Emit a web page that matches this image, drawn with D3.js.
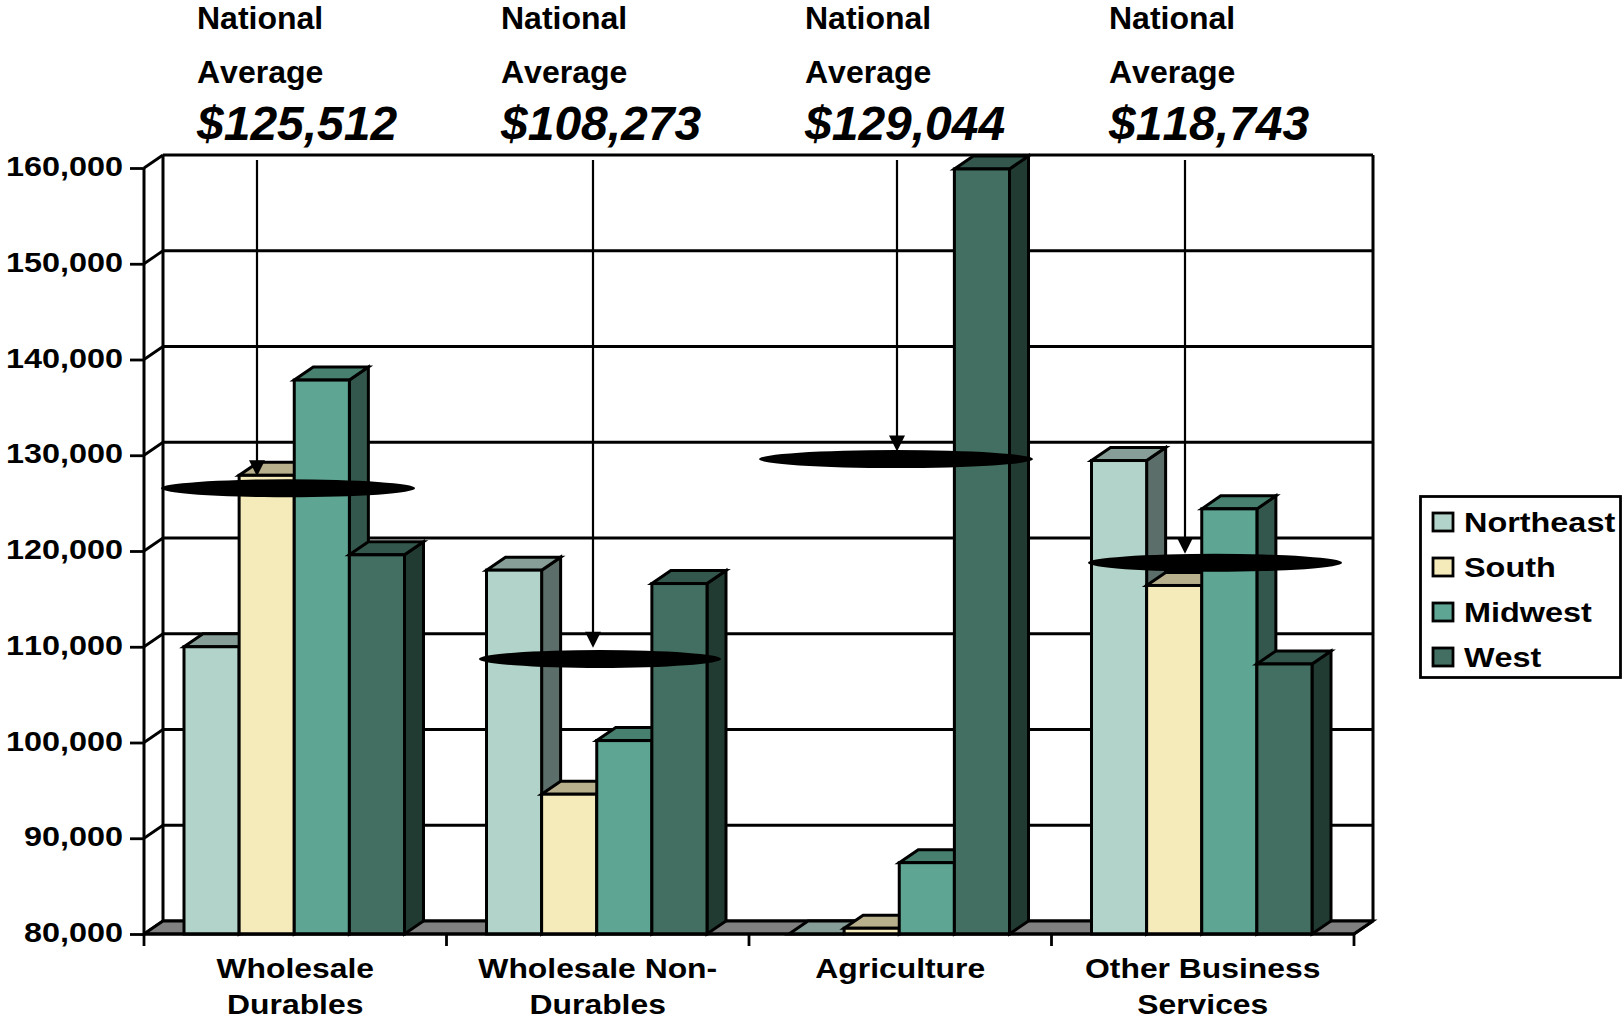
<!DOCTYPE html>
<html><head><meta charset="utf-8">
<script src="https://cdnjs.cloudflare.com/ajax/libs/d3/7.8.5/d3.min.js"></script>
<style>html,body{margin:0;padding:0;background:#fff;overflow:hidden}svg{display:block}text{font-family:"Liberation Sans",Arial,sans-serif;font-weight:700;fill:#000;font-kerning:none}</style>
</head><body><svg id="c" width="1623" height="1023"></svg>
<script>
const categories = [["Wholesale","Durables"],["Wholesale Non-","Durables"],["Agriculture"],["Other Business","Services"]];
const regions = ["Northeast","South","Midwest","West"];
const northeast = [110000,118000,80000,129450];
const south = [127900,94600,80600,116400];
const midwest = [137850,100200,87450,124400];
const west = [119600,116600,159900,108200];
const seriesValues = [northeast,south,midwest,west];
const yTicks = [80000,90000,100000,110000,120000,130000,140000,150000,160000];
const nationalLabels = ["$125,512","$108,273","$129,044","$118,743"];
const discLevels = [126550,108720,129600,118770];
const arrowTipLevels = [127800,109900,130400,119700];
const frontColors = ["#B2D3C9","#F5EAB9","#5EA693","#426F61"];
const topColors = ["#869E97","#B8B08C","#47806F","#33574C"];
const sideColors = ["#5C6E69","#7D7860","#33574C","#213A32"];

const svg = d3.select("#c");
const M = {l:144,r:1354,t:168,b:934,dx:19,dy:-13};
const y = d3.scaleLinear().domain([80000,160000]).range([M.b,M.t]);
const x0 = d3.scaleBand().domain(d3.range(categories.length)).range([M.l,M.r]).paddingInner(0).paddingOuter(0);
const x1 = d3.scaleBand().domain(d3.range(regions.length)).range([40,x0.bandwidth()-42]);
const ln = (g,a,b,c,d,w=2.8)=>g.append("line").attr("x1",a).attr("y1",b).attr("x2",c).attr("y2",d).attr("stroke","#000").attr("stroke-width",w);

// walls + grid
const wall = svg.append("g");
yTicks.forEach(t=>{
  ln(wall,M.l,y(t),M.l+M.dx,y(t)+M.dy);
  ln(wall,M.l+M.dx,y(t)+M.dy,M.r+M.dx,y(t)+M.dy);
});
ln(wall,M.l+M.dx,M.t+M.dy,M.l+M.dx,M.b+M.dy,3);
ln(wall,M.r+M.dx,M.t+M.dy,M.r+M.dx,M.b+M.dy,3);
ln(wall,M.l,M.t,M.l,M.b,3);
wall.append("path")
  .attr("d",d3.line()([[M.l,M.b],[M.l+M.dx,M.b+M.dy],[M.r+M.dx,M.b+M.dy],[M.r,M.b]])+"Z")
  .attr("fill","#808080").attr("stroke","#000").attr("stroke-width",2.8);

// bars
const bars = svg.append("g");
categories.forEach((c,ci)=>{
  regions.forEach((r,si)=>{
    const v = seriesValues[si][ci];
    const xa = x0(ci)+x1(si), w = x1.bandwidth(), yt = y(v), yb = y(80000);
    const g = bars.append("g").attr("stroke","#000").attr("stroke-width",3).attr("stroke-linejoin","miter");
    g.append("path").attr("fill",sideColors[si]).attr("d",d3.line()([[xa+w,yt],[xa+w+M.dx,yt+M.dy],[xa+w+M.dx,yb+M.dy],[xa+w,yb]])+"Z");
    g.append("path").attr("fill",topColors[si]).attr("d",d3.line()([[xa,yt],[xa+M.dx,yt+M.dy],[xa+w+M.dx,yt+M.dy],[xa+w,yt]])+"Z");
    g.append("rect").attr("fill",frontColors[si]).attr("x",xa).attr("y",yt).attr("width",w).attr("height",yb-yt);
  });
});

// front baseline
ln(svg,M.l,M.b,M.r,M.b,3);
ln(svg,M.r,M.b,M.r+M.dx,M.b+M.dy,2.8);

// y axis
const sx = 1.2;
const ya = svg.append("g").attr("transform",`translate(${M.l},-1)`)
  .call(d3.axisLeft(y).tickValues(yTicks).tickFormat(d3.format(",")).tickSize(14).tickPadding(7));
ya.select(".domain").remove();
ya.selectAll("line").attr("stroke","#000").attr("stroke-width",2.8).attr("transform","translate(0,1)");
ya.selectAll("text").attr("font-size",27).attr("x",-21/sx).attr("transform",`scale(${sx},1)`);

// x ticks + labels
d3.range(categories.length+1).forEach(i=>{
  const px = i<categories.length?x0(i):M.r;
  ln(svg,px,M.b,px,M.b+12,2.8);
});
categories.forEach((c,i)=>{
  const cx = x0(i)+x0.bandwidth()/2;
  c.forEach((l,j)=>{
    svg.append("text").attr("text-anchor","middle").attr("font-size",27)
      .attr("transform",`translate(${cx},${978+j*36}) scale(1.18,1)`).text(l);
  });
});

// headers
const headerX = [197,501,805,1109];
nationalLabels.forEach((l,i)=>{
  svg.append("text").attr("x",headerX[i]).attr("y",29).attr("font-size",32).text("National");
  svg.append("text").attr("x",headerX[i]).attr("y",83).attr("font-size",32).text("Average");
  svg.append("text").attr("x",headerX[i]).attr("y",140).attr("font-size",48).attr("font-style","italic").text(l);
});

// average discs and arrows
const arrowX = [257,593,897,1185];
const discX = [288,600,896,1215];
const discRx = [127,121,137,127];
discLevels.forEach((v,i)=>{
  svg.append("ellipse").attr("cx",discX[i]).attr("cy",y(v)).attr("rx",discRx[i]).attr("ry",9).attr("fill","#000");
  const tip = y(arrowTipLevels[i]);
  ln(svg,arrowX[i],160,arrowX[i],tip-10,2.2);
  svg.append("path").attr("d",d3.line()([[arrowX[i]-8,tip-16],[arrowX[i]+8,tip-16],[arrowX[i],tip]])+"Z").attr("fill","#000");
});

// legend
const lg = svg.append("g");
lg.append("rect").attr("x",1420.5).attr("y",496.5).attr("width",200).attr("height",181).attr("fill","#fff").attr("stroke","#000").attr("stroke-width",2.8);
const legendY = d3.scalePoint().domain(regions).range([522,657]);
regions.forEach((r,i)=>{
  lg.append("rect").attr("x",1433).attr("y",legendY(r)-9).attr("width",20).attr("height",18).attr("fill",frontColors[i]).attr("stroke","#000").attr("stroke-width",2.8);
  lg.append("text").attr("font-size",27).attr("transform",`translate(1464,${legendY(r)+10}) scale(1.2,1)`).text(r);
});
</script></body></html>
